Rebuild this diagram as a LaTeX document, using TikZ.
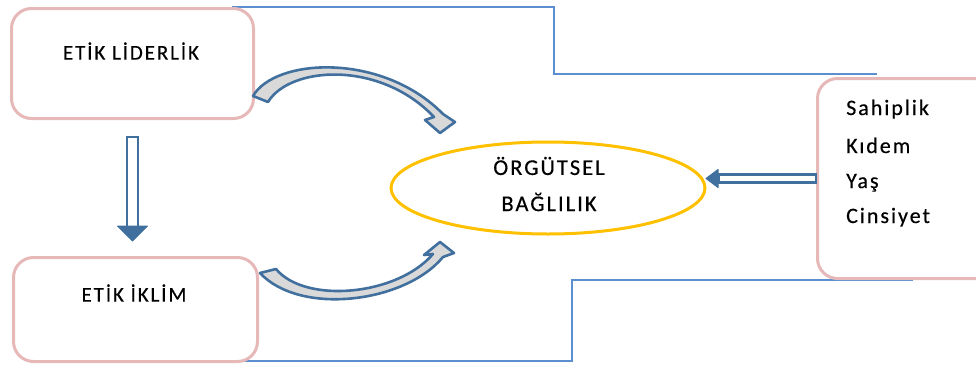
\documentclass[tikz,border=0pt]{standalone}
\usepackage{fontspec}
\setmainfont{Carlito}[LetterSpace=9, FakeBold=0.4]
\usetikzlibrary{calc,shapes.geometric}
\definecolor{frameblue}{HTML}{5B8FD0}
\definecolor{boxpink}{HTML}{E6B9B8}
\definecolor{arrowblue}{HTML}{41709F}
\definecolor{arrowgray}{HTML}{D9D9D9}
\definecolor{ringgold}{HTML}{FFC000}
\tikzset{
  frame/.style={draw=frameblue, line width=2.2pt},
  factorbox/.style={draw=boxpink, line width=3pt, fill=white, rounded corners=20pt},
  dblarrow/.style={draw=arrowblue, line width=2.6pt, fill=white, line join=miter},
  arrowtip/.style={fill=arrowblue, draw=arrowblue, line width=1pt, line join=round},
  bentarrow/.style={draw=arrowblue, line width=2.6pt, fill=arrowgray, line join=round},
  lbl/.style={font=\fontsize{21}{23}\selectfont, inner sep=0pt},
}
\begin{document}
\begin{tikzpicture}[x=1pt, y=-1pt]
\useasboundingbox (0,0) rectangle (976,364);

% outline band behind the blocks
\coordinate (t0) at (232,7);
\coordinate (b0) at (230,361);
\draw[frame] (t0) -- (554,7) -- (554,74) -- (877,74);
\draw[frame] (b0) -- (572,361) -- (572,280) -- (913,280);

% blocks
\node[factorbox, minimum width=242pt, minimum height=110pt, anchor=north west] (lider) at (10,7) {};
\node[factorbox, minimum width=244pt, minimum height=104pt, anchor=north west] (iklim) at (12,256) {};
\node[factorbox, minimum width=180pt, minimum height=200pt, anchor=north west] (demo) at (816,77) {};
\node[draw=ringgold, line width=3pt, ellipse, minimum width=314pt, minimum height=92pt, inner sep=0pt] (bag) at (548,188) {};

% labels
\node[lbl] (tl) at (131,51) {ETİK LİDERLİK};
\node[lbl] (ti) at (134,293) {ETİK İKLİM};
\node[lbl, font=\fontsize{22.5}{24}\selectfont] (tb1) at (549,166) {ÖRGÜTSEL};
\node[lbl, font=\fontsize{22.5}{24}\selectfont] (tb2) at (549,202) {BAĞLILIK};
\begin{scope}[every node/.style={lbl, font=\fontsize{22}{24}\selectfont, anchor=base west}]
\node (d1) at (846,115) {Sahiplik};
\node (d2) at (846,153) {Kıdem};
\node (d3) at (846,188) {Yaş};
\node (d4) at (846,223) {Cinsiyet};
\end{scope}

% straight double arrows
\draw[dblarrow] ($(lider.south)+(-5.5,17)$) -- ++(11,0) -- ++(0,90) -- ++(-11,0) -- cycle;
\draw[arrowtip] ($(lider.south)+(-15,106)$) -- ++(30,0) -- ++(-15,15) -- cycle;
\draw[dblarrow] ($(demo.west)+(0,-4)$) -- ++(-97,0) -- ++(0,8) -- ++(97,0) -- cycle;
\draw[arrowtip] ($(demo.west)+(-98,-9)$) -- ++(0,18) -- ++(-12,-9) -- cycle;

% bent arrows into the ellipse
\draw[bentarrow] (253,96) .. controls (275,58) and (382,52) .. (443,114)
  -- (455,122) -- (440,133) -- (425,120) -- (434,117)
  .. controls (380,60) and (290,66) .. (268,102) -- cycle;
\draw[bentarrow] (260,273) .. controls (300,316) and (405,303) .. (443,257)
  -- (454,253) -- (440,242) -- (424,255) -- (433,254)
  .. controls (397,296) and (305,304) .. (276,269) -- cycle;
\end{tikzpicture}
\end{document}
